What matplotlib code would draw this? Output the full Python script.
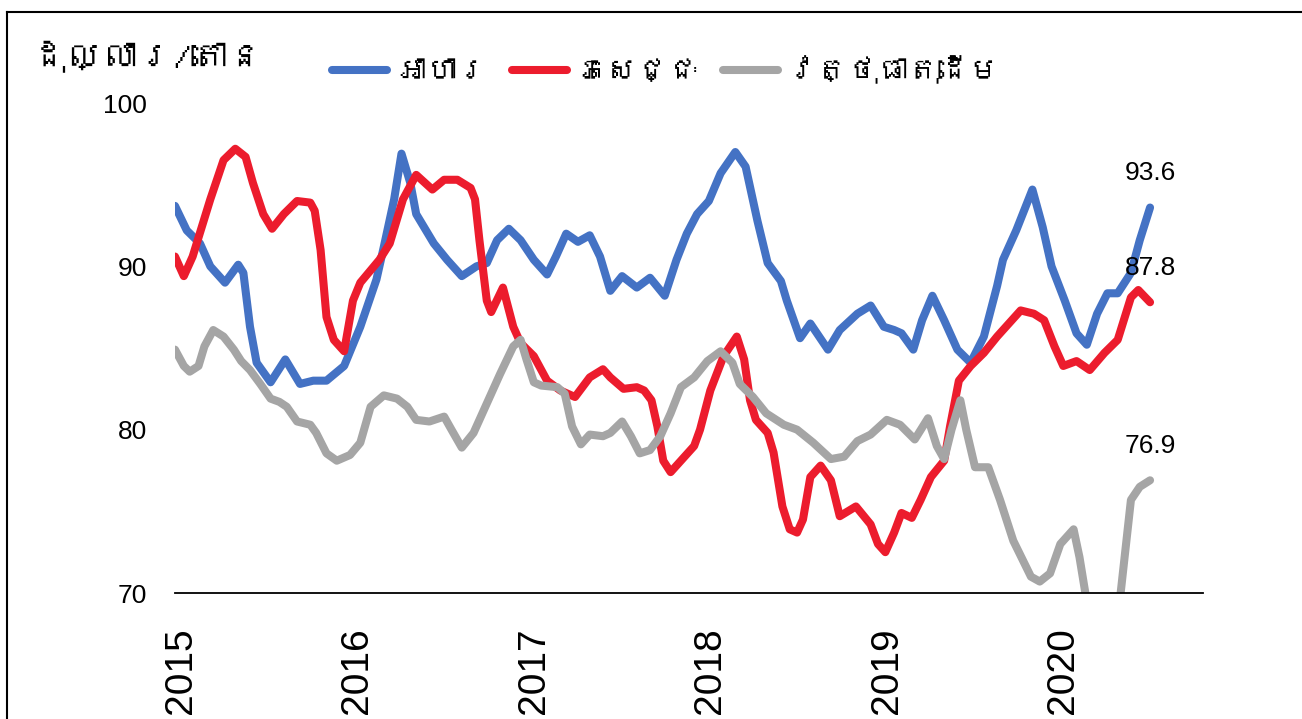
import numpy as np
import matplotlib
matplotlib.use("Agg")
import matplotlib.pyplot as plt
from matplotlib import font_manager
from matplotlib.ft2font import FT2Font
from matplotlib.lines import Line2D

# x values are months counted from January 2015
food_months = [0, 0.8, 1.7, 2.4, 3.4, 4.3, 4.65, 5.1, 5.55, 6.5, 7.5, 8.5, 9.4, 10.3, 11.5, 12.6, 13.7, 14.2, 14.9,
               15.4, 16.0, 16.4, 17.6, 18.5, 19.5, 20.5, 21.2, 21.9, 22.7, 23.5, 24.4, 25.3, 25.9, 26.6, 27.4, 28.2,
               28.9, 29.6, 30.4, 31.4, 32.3, 33.3, 34.1, 34.8, 35.5, 36.3, 37.1, 38.1, 38.8, 39.6, 40.3, 41.2, 41.6,
               42.5, 43.2, 44.4, 45.2, 46.4, 47.3, 48.2, 48.9, 49.4, 50.2, 50.8, 51.5, 52.3, 53.2, 54.1, 55.0, 55.9,
               56.3, 57.2, 58.3, 59.0, 59.6, 60.5, 61.3, 62.0, 62.7, 63.4, 64.1, 65.0, 65.6, 66.3]
food_values = [93.7, 92.2, 91.4, 90.0, 89.0, 90.1, 89.6, 86.3, 84.1, 82.9, 84.3, 82.8, 83.0, 83.0, 83.9, 86.3, 89.2, 91.2, 94.1,
               96.9, 95.1, 93.2, 91.4, 90.4, 89.4, 90.0, 90.2, 91.6, 92.3, 91.6, 90.4, 89.5, 90.6, 92.0, 91.5, 91.9,
               90.6, 88.5, 89.4, 88.7, 89.3, 88.2, 90.4, 92.0, 93.2, 94.0, 95.7, 97.0, 96.1, 92.8, 90.2, 89.1, 87.9,
               85.6, 86.5, 84.9, 86.1, 87.1, 87.6, 86.3, 86.1, 85.9, 84.9, 86.7, 88.2, 86.7, 84.9, 84.1, 85.7, 88.8,
               90.4, 92.2, 94.7, 92.4, 90.0, 87.9, 85.9, 85.2, 87.1, 88.35, 88.35, 89.6, 91.6, 93.6]

drink_months = [0, 0.6, 1.2, 2.4, 3.3, 4.1, 4.8, 5.3, 6.0, 6.6, 7.4, 8.3, 9.2, 9.5, 9.9, 10.3, 10.8, 11.5, 12.1, 12.6,
                13.9, 14.6, 15.5, 16.4, 17.5, 18.3, 19.2, 20.1, 20.4, 20.7, 21.2, 21.5, 22.3, 23.0, 23.5, 24.4, 25.3,
                26.2, 27.2, 28.2, 29.1, 29.6, 30.5, 31.4, 31.9, 32.4, 32.8, 33.2, 33.7, 34.4, 35.3, 35.7, 36.4, 37.3,
                38.2, 38.7, 39.1, 39.5, 40.3, 40.7, 41.3, 41.8, 42.3, 42.7, 43.2, 43.9, 44.6, 45.2, 46.3, 47.3, 47.8,
                48.3, 48.9, 49.4, 50.1, 50.7, 51.4, 52.3, 52.7, 53.3, 54.1, 55.0, 55.9, 57.5, 58.4, 59.1, 59.8, 60.4,
                61.3, 62.2, 63.2, 64.1, 65.0, 65.5, 66.3]
drink_values = [90.6, 89.4, 90.6, 94.1, 96.5, 97.2, 96.7, 95.1, 93.2, 92.3, 93.2, 94.0, 93.9, 93.4, 91.0, 86.9, 85.5, 84.8,
                87.9, 89.0, 90.4, 91.4, 94.1, 95.6, 94.7, 95.3, 95.3, 94.8, 94.1, 91.6, 87.9, 87.2, 88.7, 86.3, 85.3,
                84.5, 83.0, 82.4, 82.0, 83.2, 83.7, 83.2, 82.5, 82.6, 82.4, 81.8, 80.2, 78.1, 77.4, 78.1, 79.0, 80.0,
                82.4, 84.5, 85.7, 84.3, 81.8, 80.6, 79.8, 78.6, 75.3, 73.9, 73.7, 74.5, 77.1, 77.8, 76.9, 74.7, 75.3,
                74.2, 73.0, 72.5, 73.7, 74.9, 74.6, 75.7, 77.1, 78.1, 80.2, 83.0, 83.9, 84.7, 85.7, 87.3, 87.1, 86.7,
                85.1, 83.9, 84.2, 83.65, 84.7, 85.5, 88.1, 88.55, 87.8]

raw_months = [0, 0.6, 1.0, 1.6, 2.0, 2.6, 3.3, 4.0, 4.5, 5.1, 5.8, 6.5, 7.1, 7.6, 8.3, 9.2, 9.6, 10.3, 11.0, 11.9, 12.6,
              13.3, 14.2, 15.1, 15.8, 16.4, 17.3, 18.3, 18.8, 19.5, 20.3, 21.2, 22.1, 23.0, 23.5, 23.9, 24.4, 24.9,
              26.0, 26.5, 27.0, 27.6, 28.2, 29.1, 29.6, 30.4, 31.0, 31.6, 32.3, 33.0, 33.7, 34.4, 35.3, 36.2, 37.1,
              37.9, 38.4, 39.3, 40.2, 41.4, 42.3, 43.4, 44.6, 45.5, 46.4, 47.3, 48.4, 49.3, 50.3, 51.2, 51.8, 52.3,
              52.8, 53.4, 53.8, 54.4, 55.3, 56.1, 57.0, 58.2, 58.8, 59.5, 60.2, 61.1, 61.5, 61.9, 62.6, 63.6, 64.3,
              65.0, 65.6, 66.3]
raw_values = [84.9, 83.9, 83.55, 83.9, 85.1, 86.1, 85.7, 84.9, 84.2, 83.65, 82.8, 81.9, 81.7, 81.4, 80.5, 80.3, 79.8,
              78.55, 78.1, 78.45, 79.2, 81.4, 82.1, 81.9, 81.4, 80.6, 80.5, 80.8, 80.0, 78.9, 79.8, 81.6, 83.4, 85.1,
              85.5, 84.3, 82.9, 82.7, 82.6, 82.2, 80.2, 79.1, 79.7, 79.6, 79.8, 80.5, 79.6, 78.55, 78.75, 79.6, 81.0,
              82.6, 83.2, 84.2, 84.8, 84.1, 82.8, 82.0, 81.0, 80.3, 80.0, 79.2, 78.2, 78.35, 79.3, 79.7, 80.6, 80.3,
              79.4, 80.7, 79.0, 78.2, 80.0, 81.8, 80.0, 77.7, 77.7, 75.7, 73.2, 71.0, 70.7, 71.2, 73.0, 73.9, 72.2,
              70.0, 66.0, 66.0, 70.0, 75.7, 76.5, 76.9]

series_labels = ["អាហារ", "ភេសជ្ជៈ", "វត្ថុធាតុដើម"]
series_colors = ["#4472C4", "#EC1C2D", "#A5A5A5"]
year_labels   = ["2015", "2016", "2017", "2018", "2019", "2020"]
y_ticks       = [70, 80, 90, 100]
unit_label    = "ដុល្លារ/តោន"


def find_font_with(codepoint):
    for entry in font_manager.fontManager.ttflist:
        try:
            if codepoint in FT2Font(entry.fname).get_charmap():
                return entry.name
        except Exception:
            continue
    return None


khmer_font = find_font_with(0x1780)
khmer_family = [khmer_font, "DejaVu Sans"] if khmer_font else ["DejaVu Sans"]
number_family = ["Liberation Sans", "DejaVu Sans"]

fig = plt.figure(figsize=(13.02, 7.19), dpi=100)
ax = fig.add_axes([175 / 1302, 1 - 593 / 719, (1203 - 175) / 1302, (593 - 103) / 719])

series = [(food_months, food_values), (drink_months, drink_values), (raw_months, raw_values)]
handles = []
for (months, values), label, color in zip(series, series_labels, series_colors):
    line, = ax.plot(months, values, color=color, linewidth=5.8, solid_capstyle="round",
                    solid_joinstyle="round", label=label)
    handles.append(line)
    ax.annotate(f"{values[-1]:.1f}", xy=(months[-1], values[-1]), xytext=(0, 25),
                textcoords="offset points", ha="center", va="center",
                fontsize=19, family=number_family)

ax.set_xlim(0, 69.9)
ax.set_ylim(70, 100)
ax.set_yticks(y_ticks)
ax.set_yticklabels([str(t) for t in y_ticks], family=number_family, fontsize=19)
ax.set_xticks([12 * i + 0.4 for i in range(len(year_labels))])
ax.set_xticklabels(year_labels, rotation=90, family=number_family, fontsize=28)
ax.tick_params(axis="y", length=0, pad=20)
ax.tick_params(axis="x", length=0, pad=25)

for side in ["left", "right", "top"]:
    ax.spines[side].set_visible(False)
ax.spines["bottom"].set_linewidth(1.3)
ax.spines["bottom"].set_color("black")

fig.text(30 / 1302, 1 - 57 / 719, unit_label, ha="left", va="center", fontsize=26, family=khmer_family)

fig.legend(handles, series_labels, loc="center", bbox_to_anchor=(666 / 1302, 1 - 70 / 719), ncol=3,
           frameon=False, prop={"family": khmer_family, "size": 22}, handlelength=1.8,
           handletextpad=0.3, columnspacing=0.8)

# frame around the figure (left and top edges visible)
fig.add_artist(Line2D([6.5 / 1302, 6.5 / 1302], [0, 1 - 11.5 / 719], color="black", linewidth=1.5,
                      transform=fig.transFigure))
fig.add_artist(Line2D([6.5 / 1302, 1], [1 - 11.5 / 719, 1 - 11.5 / 719], color="black", linewidth=1.5,
                      transform=fig.transFigure))

fig.savefig("out.png", dpi=100)
